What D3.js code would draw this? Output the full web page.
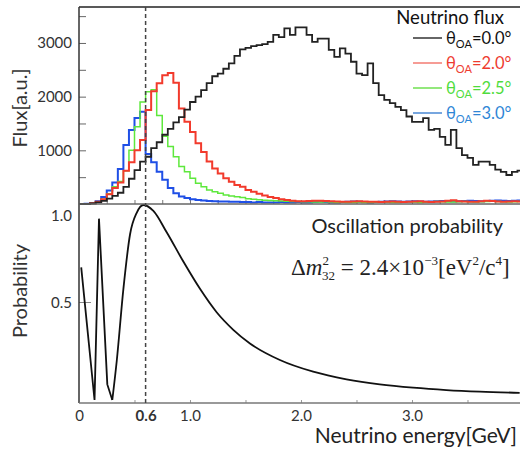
<!doctype html>
<html lang="en">
  <head>
    <meta charset="utf-8" />
    <title>Neutrino flux and oscillation probability</title>
    <script src="https://d3js.org/d3.v7.min.js"></script>
    <style>
      body { margin: 0; background: #fff; }
      svg { display: block; font-family: Lato, "Open Sans", sans-serif; }
    </style>
  </head>
  <body>
    <svg id="main" width="520" height="449"></svg>
    <script>
      // histogram bins: 0.05 GeV wide, starting at 0
      const binWidth = 0.05;
      const fluxOA00 = [0, 0, 10, 30, 60, 100, 150, 210, 320, 470, 630, 790, 880, 1040, 1150, 1290, 1400, 1520, 1620, 1760,
        1900, 2000, 2120, 2250, 2380, 2430, 2520, 2620, 2760, 2880, 2910, 2940, 2960, 2980, 3020, 3150, 3110, 3270, 3150, 3290,
        3290, 3150, 3020, 3080, 3080, 2870, 2740, 2900, 2800, 2650, 2430, 2400, 2620, 2250, 2030, 1940, 1880, 1810, 1750, 1630,
        1530, 1530, 1600, 1380, 1400, 1250, 1100, 1380, 1040, 910, 860, 730, 790, 790, 730, 640, 600, 540, 600, 620];
      const fluxOA20 = [0, 0, 15, 40, 90, 180, 300, 400, 620, 780, 1000, 1190, 1750, 2100, 2250, 2400, 2440, 2260, 1780, 1530,
        1340, 1130, 970, 790, 660, 570, 480, 415, 355, 320, 260, 230, 190, 160, 130, 110, 90, 75, 60, 50,
        50, 55, 60, 60, 55, 50, 45, 40, 40, 45, 50, 45, 40, 40, 35, 40, 45, 40, 35, 40,
        45, 50, 40, 35, 40, 45, 60, 70, 50, 45, 40, 40, 50, 60, 55, 45, 40, 45, 50, 45];
      const fluxOA25 = [0, 0, 10, 40, 90, 190, 320, 420, 620, 1000, 1440, 1900, 2090, 2130, 1650, 1260, 1070, 880, 700, 600,
        480, 385, 320, 260, 230, 200, 170, 150, 135, 120, 100, 90, 80, 70, 65, 60, 55, 50, 45, 45,
        40, 40, 35, 35, 40, 35, 30, 35, 30, 30, 35, 30, 30, 35, 40, 35, 30, 30, 35, 40,
        35, 30, 35, 40, 45, 40, 35, 35, 40, 45, 40, 35, 40, 45, 50, 45, 40, 35, 40, 45];
      const fluxOA30 = [0, 5, 15, 50, 130, 250, 400, 650, 1100, 1380, 1600, 1720, 930, 780, 600, 450, 300, 200, 140, 110,
        90, 75, 65, 55, 50, 45, 45, 40, 40, 35, 35, 30, 35, 30, 30, 30, 35, 30, 30, 35,
        30, 30, 35, 40, 35, 30, 30, 35, 40, 45, 40, 35, 30, 35, 40, 45, 50, 45, 40, 45,
        50, 45, 40, 45, 50, 55, 50, 45, 50, 55, 60, 55, 50, 55, 60, 65, 60, 55, 60, 65];

      // oscillation probability
      const probE = [0.02, 0.14, 0.18, 0.255, 0.30];
      const probP = [0.68, 0.0, 0.93, 0.08, 0.0];
      const probE2 = [0.30, 0.34, 0.40, 0.46, 0.52, 0.58, 0.67, 0.79, 0.94, 1.09, 1.24, 1.39, 1.54, 1.81, 2.11, 2.41, 2.71, 3.01, 3.31, 3.61, 3.97];
      const probP2 = [0.0, 0.20, 0.57, 0.85, 0.96, 1.0, 0.97, 0.86, 0.71, 0.57, 0.45, 0.36, 0.29, 0.205, 0.145, 0.106, 0.08, 0.063, 0.051, 0.043, 0.037];

      const fluxTicks = [1000, 2000, 3000];
      const probTicks = [0.5, 1.0];
      const energyTicks = [0, 0.6, 1.0, 2.0, 3.0];
      const peakEnergy = 0.6;

      const series = [
        { label: '0.0', values: fluxOA00, color: '#222', legendColor: '#333', textColor: '#111', width: 1.8 },
        { label: '2.0', values: fluxOA20, color: '#f23a2c', legendColor: '#f37b72', textColor: '#ee3b30', width: 2 },
        { label: '2.5', values: fluxOA25, color: '#5ee83c', legendColor: '#6fe050', textColor: '#4fdc3c', width: 1.5 },
        { label: '3.0', values: fluxOA30, color: '#1f4fe6', legendColor: '#4a88d4', textColor: '#2f86d6', width: 2 },
      ];

      const svg = d3.select('#main');
      const pLeft = 79;
      const pRight = 519;
      const pTop = 7;
      const pMid = 204;
      const pBottom = 403;

      const x = d3.scaleLinear().domain([0, 3.964]).range([pLeft, pRight]);
      const yFlux = d3.scaleLinear().domain([0, 3670]).range([pMid, pTop]);
      const yProb = d3.scaleLinear().domain([0, 1]).range([400, 205]);

      const clip = svg.append('clipPath').attr('id', 'clip');
      clip.append('rect').attr('x', pLeft).attr('y', pTop).attr('width', pRight - pLeft + 2).attr('height', pBottom - pTop);

      // upper panel ticks
      svg.append('g')
        .attr('transform', `translate(${pLeft},0)`)
        .call(d3.axisRight(yFlux).tickValues(d3.range(500, 3600, 500)).tickSize(7).tickFormat(''))
        .call((g) => g.select('.domain').remove())
        .call((g) => g.selectAll('line').attr('stroke', '#666'));
      svg.append('g')
        .attr('transform', `translate(0,${pMid})`)
        .call(d3.axisTop(x).tickValues(d3.range(0.25, 4, 0.25)).tickSize(4).tickFormat(''))
        .call((g) => g.select('.domain').remove())
        .call((g) => g.selectAll('line').attr('stroke', '#777'));
      svg.append('g')
        .attr('transform', `translate(${pLeft},0)`)
        .call(d3.axisLeft(yFlux).tickValues(fluxTicks).tickSize(0).tickPadding(7).tickFormat(d3.format('d')))
        .call((g) => g.select('.domain').remove())
        .call((g) => g.selectAll('text').attr('font-size', 15).attr('fill', '#333').attr('font-family', 'Lato, sans-serif'));

      // lower panel ticks
      svg.append('g')
        .attr('transform', `translate(0,${pBottom})`)
        .call(d3.axisTop(x).tickValues(d3.range(0.5, 4, 0.5)).tickSize(3).tickFormat(''))
        .call((g) => g.select('.domain').remove())
        .call((g) => g.selectAll('line').attr('stroke', '#999'));
      svg.append('line')
        .attr('x1', pLeft).attr('x2', pLeft + 12)
        .attr('y1', yProb(0.5)).attr('y2', yProb(0.5))
        .attr('stroke', '#888');
      const probAxis = svg.append('g')
        .attr('transform', `translate(${pLeft},0)`)
        .call(d3.axisLeft(yProb).tickValues(probTicks).tickSize(0).tickPadding(7).tickFormat(d3.format('.1f')))
        .call((g) => g.select('.domain').remove())
        .call((g) => g.selectAll('text').attr('font-size', 15).attr('fill', '#333').attr('font-family', 'Lato, sans-serif'));
      probAxis.selectAll('.tick').filter((d) => d === 1).select('text').attr('dy', '1.05em');

      // energy axis labels
      svg.append('g')
        .attr('transform', `translate(0,${pBottom})`)
        .call(d3.axisBottom(x).tickValues(energyTicks).tickSize(0).tickPadding(7)
          .tickFormat((d) => (d === 0 ? '0' : d3.format('.1f')(d))))
        .call((g) => g.select('.domain').remove())
        .call((g) => g.selectAll('text').attr('font-size', 15).attr('fill', '#333').attr('font-family', 'Lato, sans-serif')
          .attr('font-weight', (d) => (d === peakEnergy ? 'bold' : 'normal')));

      // histograms
      const step = d3.line()
        .x((d) => x(d[0]))
        .y((d) => yFlux(d[1]))
        .curve(d3.curveStepAfter);
      const hist = svg.append('g').attr('clip-path', 'url(#clip)');
      for (const s of series.slice().reverse()) {
        const pts = s.values.map((v, i) => [i * binWidth, v]);
        pts.push([s.values.length * binWidth, s.values[s.values.length - 1]]);
        hist.append('path')
          .attr('d', step(pts))
          .attr('fill', 'none')
          .attr('stroke', s.color)
          .attr('stroke-width', s.width);
      }

      // probability curve
      const probLine = d3.line().x((d) => x(d[0])).y((d) => yProb(d[1]));
      svg.append('path')
        .attr('d', probLine(probE.map((e, i) => [e, probP[i]])))
        .attr('fill', 'none').attr('stroke', '#111').attr('stroke-width', 1.8).attr('stroke-linejoin', 'miter');
      svg.append('path')
        .attr('d', probLine.curve(d3.curveMonotoneX)(probE2.map((e, i) => [e, probP2[i]])))
        .attr('fill', 'none').attr('stroke', '#111').attr('stroke-width', 1.8);

      // frame
      const frame = svg.append('g').attr('stroke', '#444').attr('stroke-width', 1.5);
      frame.append('line').attr('x1', pLeft).attr('x2', pRight + 1).attr('y1', pTop).attr('y2', pTop).attr('stroke', '#222');
      frame.append('line').attr('x1', pLeft).attr('x2', pLeft).attr('y1', pTop).attr('y2', pBottom).attr('stroke', '#333');
      frame.append('line').attr('x1', pLeft).attr('x2', pRight + 1).attr('y1', pMid).attr('y2', pMid).attr('stroke', '#666');
      frame.append('line').attr('x1', pLeft).attr('x2', pRight + 1).attr('y1', pBottom).attr('y2', pBottom).attr('stroke', '#777');

      // dashed line at 0.6 GeV
      svg.append('line')
        .attr('x1', x(peakEnergy)).attr('x2', x(peakEnergy))
        .attr('y1', pTop).attr('y2', pBottom)
        .attr('stroke', '#444').attr('stroke-width', 1.5).attr('stroke-dasharray', '4,3');

      // axis titles
      svg.append('text')
        .attr('transform', `translate(27,108) rotate(-90)`)
        .attr('text-anchor', 'middle').attr('font-size', 20).attr('fill', '#333')
        .text('Flux[a.u.]');
      svg.append('text')
        .attr('transform', `translate(27,291) rotate(-90)`)
        .attr('text-anchor', 'middle').attr('font-size', 20).attr('fill', '#333')
        .text('Probability');
      svg.append('text')
        .attr('x', 517).attr('y', 443)
        .attr('text-anchor', 'end').attr('font-size', 21).attr('fill', '#222')
        .text('Neutrino energy[GeV]');

      // legend
      svg.append('text')
        .attr('x', 504).attr('y', 24)
        .attr('text-anchor', 'end').attr('font-size', 18.5).attr('fill', '#111')
        .text('Neutrino flux');
      series.forEach((s, i) => {
        const ly = 38 + i * 25;
        svg.append('line')
          .attr('x1', 413).attr('x2', 442).attr('y1', ly).attr('y2', ly)
          .attr('stroke', s.legendColor).attr('stroke-width', 1.5);
        const t = svg.append('text').attr('x', 446).attr('y', ly + 6).attr('fill', s.textColor).attr('font-size', 16.5);
        t.append('tspan').text('θ');
        t.append('tspan').attr('font-size', 11).attr('dy', 4).text('OA');
        t.append('tspan').attr('dy', -4).text(`=${s.label}°`);
      });

      // lower panel annotations
      svg.append('text')
        .attr('x', 503).attr('y', 233)
        .attr('text-anchor', 'end').attr('font-size', 20).attr('fill', '#222')
        .text('Oscillation probability');
      const f = svg.append('text')
        .attr('x', 291).attr('y', 275)
        .attr('font-family', '"Liberation Serif", "DejaVu Serif", serif')
        .attr('font-size', 23).attr('fill', '#222');
      f.append('tspan').text('Δ');
      f.append('tspan').attr('font-style', 'italic').text('m');
      f.append('tspan').attr('font-size', 13).attr('dy', -10).text('2');
      f.append('tspan').attr('font-size', 13).attr('dx', -7).attr('dy', 15).text('32');
      f.append('tspan').attr('dy', -5).text(' = 2.4×10');
      f.append('tspan').attr('font-size', 13).attr('dy', -10).text('−3');
      f.append('tspan').attr('dy', 10).text('[eV');
      f.append('tspan').attr('font-size', 13).attr('dy', -10).text('2');
      f.append('tspan').attr('dy', 10).text('/c');
      f.append('tspan').attr('font-size', 13).attr('dy', -10).text('4');
      f.append('tspan').attr('dy', 10).text(']');
    </script>
  </body>
</html>
